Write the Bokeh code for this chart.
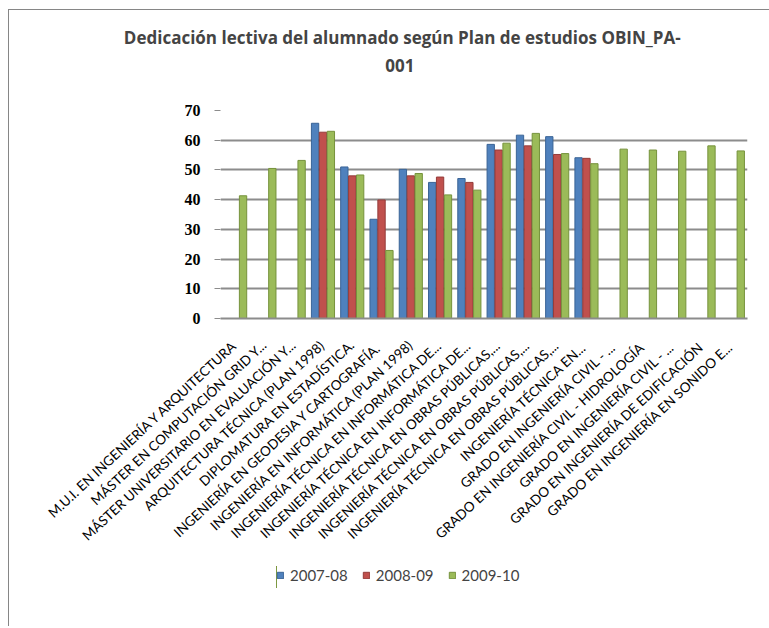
from bokeh.plotting import figure
from bokeh.models import ColumnDataSource, Legend, LegendItem, FixedTicker, Title
from bokeh.transform import dodge
from bokeh.embed import file_html
from bokeh.resources import INLINE
import math

categories = [
    "M.U.I. EN INGENIERÍA Y ARQUITECTURA",
    "MÁSTER EN COMPUTACIÓN GRID Y...",
    "MÁSTER UNIVERSITARIO EN EVALUACIÓN Y...",
    "ARQUITECTURA TÉCNICA (PLAN 1998)",
    "DIPLOMATURA EN ESTADÍSTICA.",
    "INGENIERÍA  EN GEODESIA Y CARTOGRAFÍA.",
    "INGENIERÍA EN INFORMÁTICA (PLAN 1998)",
    "INGENIERÍA TÉCNICA EN INFORMÁTICA DE...",
    "INGENIERÍA TÉCNICA EN INFORMÁTICA DE...",
    "INGENIERÍA TÉCNICA EN OBRAS PÚBLICAS,...",
    "INGENIERÍA TÉCNICA EN OBRAS PÚBLICAS,...",
    "INGENIERÍA TÉCNICA EN OBRAS PÚBLICAS,...",
    "INGENIERÍA TÉCNICA  EN...",
    "GRADO EN INGENIERÍA  CIVIL - ...",
    "GRADO EN INGENIERÍA  CIVIL - HIDROLOGÍA",
    "GRADO EN INGENIERÍA  CIVIL - ...",
    "GRADO EN INGENIERÍA  DE EDIFICACIÓN",
    "GRADO EN INGENIERÍA  EN SONIDO E...",
]
v2007 = [None, None, None, 65.7, 51.0, 33.4, 50.2, 45.8, 47.1, 58.6, 61.7, 61.2, 54.1,
         None, None, None, None, None]
v2008 = [None, None, None, 62.7, 48.0, 39.9, 48.0, 47.6, 45.8, 56.7, 58.1, 55.2, 53.9,
         None, None, None, None, None]
v2009 = [41.3, 50.5, 53.2, 63.0, 48.3, 22.9, 48.8, 41.6, 43.2, 59.0, 62.3, 55.5, 52.1,
         57.0, 56.7, 56.3, 58.1, 56.4]
series_names = ["2007-08", "2008-09", "2009-10"]
y_ticks = [0, 10, 20, 30, 40, 50, 60, 70]
title_lines = ["Dedicación lectiva del alumnado según Plan de estudios   OBIN_PA-", "001"]

colors = ["#4F81BD", "#C0504D", "#9BBB59"]
edges = ["#3A6496", "#943B39", "#76923C"]
offsets = [-0.27, 0.0, 0.27]

FW, FH = 527, 208
BL, BR, BT = 211, 22, 100
W, H = 760, 616
p = figure(width=W, height=H, output_backend="svg", toolbar_location=None,
           x_range=(-0.5, len(categories) - 0.5), y_range=(0, 70),
           min_border_left=BL, min_border_right=BR, min_border_top=BT,
           min_border_bottom=H - BT - FH)
p.frame_width = FW
p.frame_height = FH
p.outline_line_color = None
p.background_fill_color = "white"
p.border_fill_color = "white"

sources = []
for vals in [v2007, v2008, v2009]:
    xs = [i for i, v in enumerate(vals) if v is not None]
    ys = [v for v in vals if v is not None]
    sources.append(ColumnDataSource(dict(x=xs, top=ys)))

for src, off, c, e in zip(sources, offsets, colors, edges):
    p.vbar(x=dodge("x", off), top="top", width=0.25, source=src,
           fill_color=c, line_color=e, line_width=1)

p.xgrid.grid_line_color = None
p.ygrid.grid_line_color = "#8C8C8C"
p.ygrid.grid_line_width = 2
p.yaxis.ticker = FixedTicker(ticks=y_ticks)
p.yaxis.axis_line_color = None
p.yaxis.major_tick_out = 6
p.yaxis.major_tick_in = 0
p.yaxis.major_tick_line_color = "#8C8C8C"
p.yaxis.minor_tick_line_color = None
p.yaxis.major_label_standoff = 14
p.yaxis.major_label_text_font = "Liberation Serif"
p.yaxis.major_label_text_font_style = "bold"
p.yaxis.major_label_text_font_size = "16px"
p.yaxis.major_label_text_color = "black"

p.xaxis.ticker = FixedTicker(ticks=list(range(len(categories))))
p.xaxis.major_label_overrides = {i: c for i, c in enumerate(categories)}
p.xaxis.major_label_orientation = math.radians(43)
p.xaxis.axis_line_color = "#8C8C8C"
p.xaxis.axis_line_width = 2
p.xaxis.major_tick_line_color = None
p.xaxis.minor_tick_line_color = None
p.xaxis.major_label_standoff = 18
p.xaxis.major_label_text_font = "Lato"
p.xaxis.major_label_text_font_size = "13.5px"
p.xaxis.major_label_text_color = "black"

t2 = Title(text=title_lines[1], align="right", offset=333, standoff=12,
           text_font="Open Sans", text_font_style="bold", text_font_size="17px")
try:
    t2.padding = dict(left=0, right=0, top=0, bottom=33)
except Exception:
    t2.standoff = 60
t1 = Title(text=title_lines[0], align="right", offset=58, standoff=4,
           text_font="Open Sans", text_font_style="bold", text_font_size="17px")
p.add_layout(t2, "above")
p.add_layout(t1, "above")

p.styles = {"margin-left": "8px", "margin-top": "9px",
            "border-left": "1px solid #868686", "border-top": "1px solid #868686"}

# legend: a small companion figure; its bars use the same data but lie far outside its x range
lf = figure(width=270, height=22, output_backend="svg", toolbar_location=None,
            x_axis_type=None, y_axis_type=None,
            x_range=(1000, 1001), y_range=(0, 1), min_border=0)
lf.outline_line_color = None
lf.background_fill_color = "white"
lf.border_fill_color = "white"
leg_renderers = []
for src, off, c, e in zip(sources, offsets, colors, edges):
    leg_renderers.append(lf.vbar(x=dodge("x", off), top="top", width=0.25, source=src,
                                 fill_color=c, line_color=e, line_width=1))
legend = Legend(items=[LegendItem(label=n, renderers=[r]) for n, r in zip(series_names, leg_renderers)],
                orientation="horizontal", location="top_left",
                label_text_font="Lato", label_text_font_size="15px",
                glyph_width=8, glyph_height=8, label_standoff=6, spacing=14,
                border_line_color=None, background_fill_alpha=0, padding=0, margin=0)
lf.add_layout(legend)
lf.styles = {"position": "absolute", "left": "276px", "top": "566px"}

open("out.html", "w").write(file_html([p, lf], INLINE))
